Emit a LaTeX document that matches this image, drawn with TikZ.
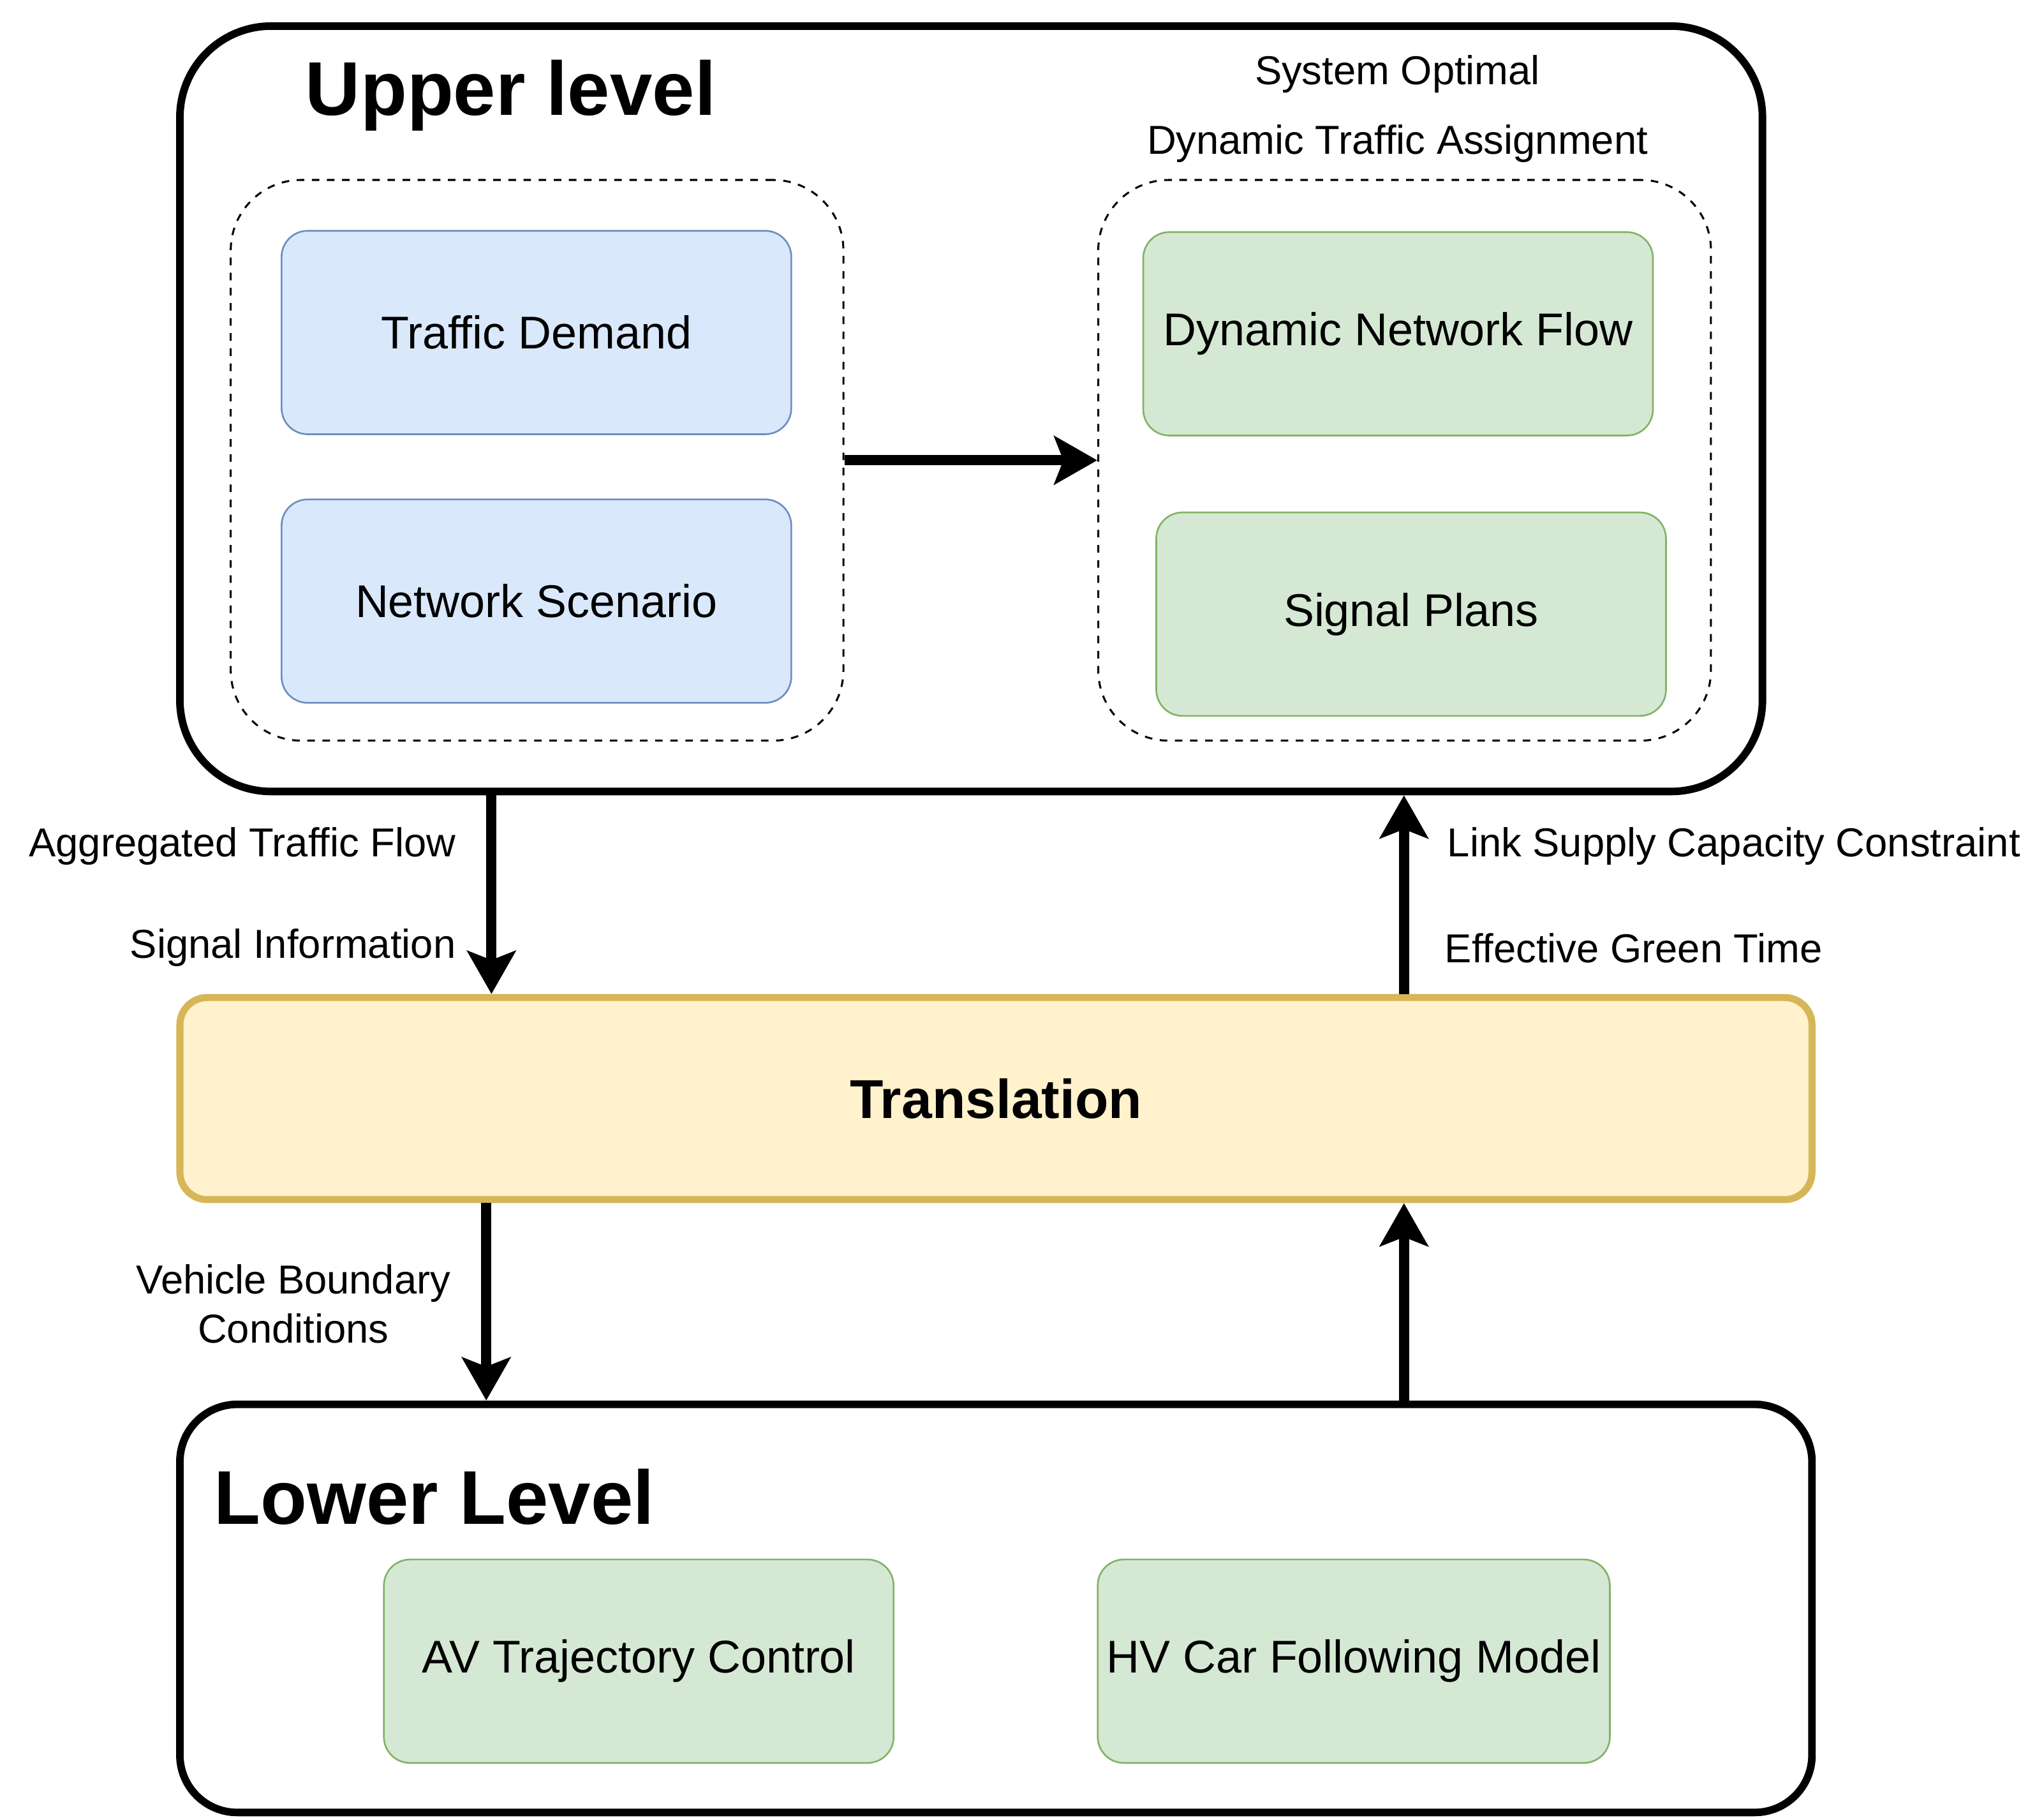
\documentclass[tikz,border=0pt]{standalone}
\usepackage{fontspec}
\setmainfont{Liberation Sans}
\usetikzlibrary{arrows.meta}
\definecolor{bluefill}{HTML}{DAE8FC}
\definecolor{blueline}{HTML}{6C8EBF}
\definecolor{greenfill}{HTML}{D5E8D4}
\definecolor{greenline}{HTML}{82B366}
\definecolor{yellowfill}{HTML}{FFF2CC}
\definecolor{yellowline}{HTML}{D6B656}
\begin{document}
\begin{tikzpicture}[x=0.5pt,y=-0.5pt, line join=round,
	box/.style={draw, rounded corners=10pt, line width=0.65pt, minimum width=195.5pt, minimum height=78pt, font=\fontsize{17.6}{20}\selectfont},
	bluebox/.style={box, fill=bluefill, draw=blueline},
	greenbox/.style={box, fill=greenfill, draw=greenline},
	grp/.style={draw, dash pattern=on 2.9pt off 2.9pt, line width=0.75pt, rounded corners=27pt, minimum width=235pt, minimum height=215pt},
	level/.style={draw, line width=2.9pt, minimum width=626pt},
	title/.style={font=\fontsize{29.2}{34}\selectfont\bfseries, inner sep=0pt},
	lbl/.style={font=\fontsize{15.5}{18}\selectfont, inner sep=0pt},
	arr/.style={line width=3.9pt, -{Stealth[length=16.5pt,width=18.5pt,inset=3.5pt]}}]
	\useasboundingbox (0,0) rectangle (1568,1394);
	% upper level
	\node[level, rounded corners=35pt, minimum width=607pt, minimum height=293.5pt] (upper) at (745,313.5) {};
	\node[title, anchor=west] (uptitle) at (234,73) {Upper level};
	\node[grp] (inputs) at (412,353) {};
	\node[grp] (sodta) at (1077.5,353) {};
	\node[lbl] (so1) at (1072,57) {System Optimal};
	\node[lbl] (so2) at (1072,110) {Dynamic Traffic Assignment};
	\node[bluebox] (demand) at (411.5,255) {Traffic Demand};
	\node[bluebox] (scenario) at (411.5,461) {Network Scenario};
	\node[greenbox] (netflow) at (1072.5,256) {Dynamic Network Flow};
	\node[greenbox] (plans) at (1082.5,471) {Signal Plans};
	\draw[arr] (inputs.east) -- (sodta.west);
	% translation
	\node[level, draw=yellowline, fill=yellowfill, line width=2.7pt, rounded corners=10.5pt, minimum height=77.5pt,
		font=\fontsize{21}{25}\selectfont\bfseries] (trans) at (764,842.5) {Translation};
	% lower level
	\node[level, rounded corners=22pt, minimum height=156.5pt] (lower) at (764,1233.5) {};
	\node[title, anchor=west] (lowtitle) at (164,1148) {Lower Level};
	\node[greenbox] (avctrl) at (490,1274) {AV Trajectory Control};
	\node[greenbox] (hvcf) at (1038.5,1274) {HV Car Following Model};
	% connectors
	\coordinate (xa) at (377,0);
	\coordinate (xb) at (1077,0);
	\coordinate (xc) at (373,0);
	\draw[arr] (upper.south -| xa) -- (trans.north -| xa);
	\draw[arr] (trans.north -| xb) -- (upper.south -| xb);
	\draw[arr] (trans.south -| xc) -- (lower.north -| xc);
	\draw[arr] (lower.north -| xb) -- (trans.south -| xb);
	\node[lbl, anchor=east] (aggflow) at (350,649) {Aggregated Traffic Flow};
	\node[lbl, anchor=east] (siginfo) at (350,727) {Signal Information};
	\node[lbl, anchor=west] (linkcap) at (1110,649) {Link Supply Capacity Constraint};
	\node[lbl, anchor=west] (greentime) at (1108,727) {Effective Green Time};
	\node[lbl, align=center, font=\fontsize{15.5}{19}\selectfont] (vbc) at (225,1000) {Vehicle Boundary\\Conditions};
\end{tikzpicture}
\end{document}
